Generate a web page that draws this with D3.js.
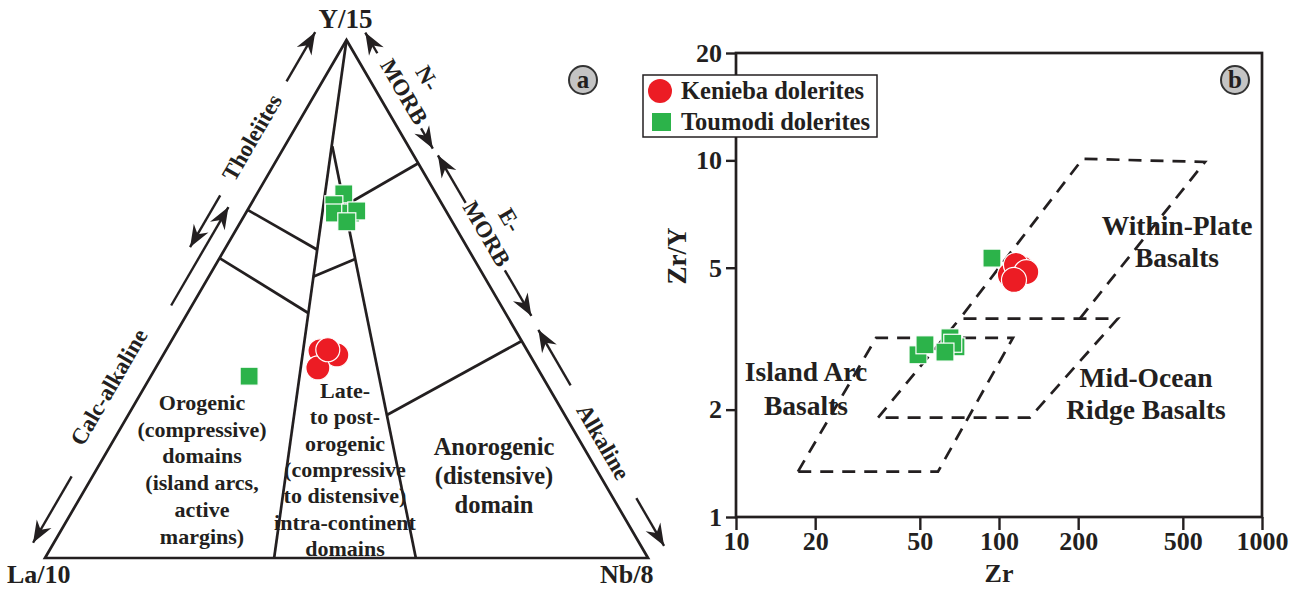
<!DOCTYPE html>
<html>
<head>
<meta charset="utf-8">
<script src="https://cdn.jsdelivr.net/npm/d3@7"></script>
<style>
body { margin: 0; background: #fff; }
text { font-family: "Liberation Serif", "Times New Roman", serif; font-weight: bold; fill: #231f20; }
</style>
</head>
<body>
<script>
// ---- (a) ternary Y/15 - La/10 - Nb/8 ----
var apexLabels = ['Y/15', 'La/10', 'Nb/8'];
// field boundaries, each point [Y/15, La/10, Nb/8] in %
var ternLines = [
  [[100, 0, 0], [0, 62, 38]],
  [[79.5, 12.6, 7.9], [0, 38.5, 61.5]],
  [[67.2, 32.8, 0], [59.5, 25.1, 15.4]],
  [[57.9, 42.1, 0], [47.3, 32.7, 20.0]],
  [[54.3, 28.4, 17.3], [57.7, 19.7, 22.6]],
  [[68.0, 16.3, 15.7], [76.2, 0, 23.8]],
  [[27.6, 29.5, 42.9], [41.9, 0, 58.1]]
];
var kenTern = [[40.0, 34.4, 25.6], [39.2, 32.0, 28.8], [36.7, 36.4, 26.9], [40.2, 33.0, 26.8]];
var touTern = [[70.3, 15.3, 14.4], [68.2, 18.0, 13.8], [66.6, 18.7, 14.7], [66.6, 16.0, 17.4],
               [67.0, 14.8, 18.2], [64.9, 17.5, 17.6], [35.1, 48.6, 16.3]];

// ---- (b) Zr vs Zr/Y ----
var zrTicks = [10, 20, 50, 100, 200, 500, 1000];
var zryTicks = [1, 2, 5, 10, 20];
var wpbField = [[203, 3.6], [607, 9.9], [208, 10.1], [71, 3.6]];
var morbField = [[34.7, 1.9], [71, 3.6], [283, 3.6], [131, 1.9]];
var iabField = [[17.2, 1.34], [34.1, 3.18], [113, 3.18], [58.6, 1.34]];
var kenZr = [[122, 4.99], [110, 4.77], [116, 5.09], [127, 4.86], [114, 4.62]];
var touZr = [[94, 5.32], [49.2, 2.85], [52.3, 3.04], [65.1, 3.18], [68.6, 3.0], [66.7, 3.07], [62.3, 2.9]];

var red = '#ec1c24', green = '#2cb34a', ink = '#231f20';

var svg = d3.select('body').append('svg').attr('width', 1299).attr('height', 589);

svg.append('defs').append('marker')
  .attr('id', 'ah').attr('viewBox', '-23 -9 25 18').attr('refX', 0).attr('refY', 0)
  .attr('markerWidth', 25).attr('markerHeight', 18).attr('markerUnits', 'userSpaceOnUse')
  .attr('orient', 'auto')
  .append('path').attr('d', 'M0,0 L-22,-8.5 L-15,0 L-22,8.5 Z').attr('fill', ink);

// ternary scales
var tx = d3.scaleLinear().domain([0, 1]).range([45, 648]);
var ty = d3.scaleLinear().domain([0, 1]).range([558, 40]);
function tern(p) {
  var s = p[0] + p[1] + p[2], a = p[0] / s, c = p[2] / s;
  return [tx(c + a / 2), ty(a)];
}
var ga = svg.append('g');
var corners = [[100, 0, 0], [0, 100, 0], [0, 0, 100]].map(tern);
ga.append('path').attr('d', d3.line()(corners) + 'Z')
  .attr('fill', 'none').attr('stroke', ink).attr('stroke-width', 2.7).attr('stroke-linejoin', 'miter');

ga.selectAll('.fl').data(ternLines).enter().append('path')
  .attr('d', function (d) { return d3.line()(d.map(tern)); })
  .attr('fill', 'none').attr('stroke', ink).attr('stroke-width', 2.7);

ga.append('text').attr('x', corners[0][0] - 1).attr('y', 28).attr('text-anchor', 'middle').style('font-size', '27px').text(apexLabels[0]);
ga.append('text').attr('x', 7).attr('y', 583).style('font-size', '26px').text(apexLabels[1]);
ga.append('text').attr('x', 600).attr('y', 583).style('font-size', '26px').text(apexLabels[2]);

// side arrows
function sidePt(side, t, off) {
  var A = corners[0], B = side === 'left' ? corners[1] : corners[2];
  var dx = A[0] - B[0], dy = A[1] - B[1], len = Math.hypot(dx, dy);
  var ux = dx / len, uy = dy / len;
  var nx = side === 'left' ? uy : -uy, ny = side === 'left' ? -ux : ux;
  return [B[0] + ux * t * len + nx * off, B[1] + uy * t * len + ny * off];
}
var sideNotes = [
  { side: 'left', off: 31, segs: [[0.67, 0.57], [0.89, 0.985]], t: 0.78, toff: 33, lines: ['Tholeiites'] },
  { side: 'left', off: 18, segs: [[0.47, 0.66], [0.14, 0.012]], t: 0.30, toff: 31, lines: ['Calc-alkaline'] },
  { side: 'right', off: 20, segs: [[0.955, 0.995], [0.81, 0.771]], t: 0.877, toff: 24, lines: ['N-', 'MORB'] },
  { side: 'right', off: 21, segs: [[0.665, 0.757], [0.535, 0.447]], t: 0.603, toff: 24, lines: ['E-', 'MORB'] },
  { side: 'right', off: 20, segs: [[0.314, 0.421], [0.096, 0.004]], t: 0.205, toff: 20, lines: ['Alkaline'] }
];
sideNotes.forEach(function (n) {
  n.segs.forEach(function (s) {
    var p0 = sidePt(n.side, s[0], n.off), p1 = sidePt(n.side, s[1], n.off);
    ga.append('line').attr('x1', p0[0]).attr('y1', p0[1]).attr('x2', p1[0]).attr('y2', p1[1])
      .attr('stroke', ink).attr('stroke-width', 2.4).attr('marker-end', 'url(#ah)');
  });
  var c = sidePt(n.side, n.t, n.toff);
  var ang = n.side === 'left' ? -59.8 : 59.8;
  var tt = ga.append('text').attr('transform', 'translate(' + c[0] + ',' + c[1] + ') rotate(' + ang + ')')
    .attr('text-anchor', 'middle').style('font-size', '23px');
  var nl = n.lines.length;
  n.lines.forEach(function (l, i) {
    tt.append('tspan').attr('x', 0).attr('y', 8 - (nl - 1 - i) * 27).text(l);
  });
});

// field names
function block(g, x, y0, dy, size, lines) {
  var t = g.append('text').attr('text-anchor', 'middle').style('font-size', size + 'px');
  lines.forEach(function (l, i) {
    t.append('tspan').attr('x', x).attr('y', y0 + i * dy).text(l);
  });
}
block(ga, 202, 410, 26.7, 22, ['Orogenic', '(compressive)', 'domains', '(island arcs,', 'active', 'margins)']);
block(ga, 345, 398, 26.3, 22, ['Late-', 'to post-', 'orogenic', '(compressive', 'to distensive)', 'intra-continent', 'domains']);
block(ga, 494, 455, 29, 24.5, ['Anorogenic', '(distensive)', 'domain']);

function drawPoints(g, pos, ken, tou, r, sq) {
  g.selectAll(null).data(tou).enter().append('rect')
    .attr('x', function (d) { return pos(d)[0] - sq / 2; })
    .attr('y', function (d) { return pos(d)[1] - sq / 2; })
    .attr('width', sq).attr('height', sq)
    .attr('fill', green).attr('stroke', '#fff').attr('stroke-width', 1.2);
  g.selectAll(null).data(ken).enter().append('circle')
    .attr('cx', function (d) { return pos(d)[0]; })
    .attr('cy', function (d) { return pos(d)[1]; })
    .attr('r', r)
    .attr('fill', red).attr('stroke', '#fff').attr('stroke-width', 1.2);
}
drawPoints(ga, tern, kenTern, touTern, 12, 18);

// ---- (b) ----
var x = d3.scaleLog().domain([10, 1000]).range([736, 1262]);
var y = d3.scaleLog().domain([1, 20]).range([517, 53]);
var gb = svg.append('g');

var line = d3.line().x(function (d) { return x(d[0]); }).y(function (d) { return y(d[1]); });
[[wpbField, false], [morbField, true], [iabField, true]].forEach(function (f) {
  gb.append('path').attr('d', line(f[0]) + (f[1] ? 'Z' : ''))
    .attr('fill', 'none').attr('stroke', ink).attr('stroke-width', 2.7)
    .attr('stroke-dasharray', '13,9');
});

var xa = gb.append('g').attr('transform', 'translate(0,517)')
  .call(d3.axisBottom(x).tickValues(zrTicks).tickFormat(d3.format('d')).tickSize(13).tickSizeOuter(0).tickPadding(2));
var ya = gb.append('g').attr('transform', 'translate(736,0)')
  .call(d3.axisLeft(y).tickValues(zryTicks).tickFormat(d3.format('d')).tickSize(10).tickSizeOuter(0).tickPadding(4));
[xa, ya].forEach(function (a) {
  a.select('.domain').remove();
  a.selectAll('line').attr('stroke', ink).attr('stroke-width', 2.4);
  a.selectAll('text').attr('fill', ink).style('font-size', '26px')
    .style('font-family', '"Liberation Serif", serif').style('font-weight', 'bold');
});
gb.append('rect').attr('x', x(10)).attr('y', y(20)).attr('width', x(1000) - x(10)).attr('height', y(1) - y(20))
  .attr('fill', 'none').attr('stroke', ink).attr('stroke-width', 2.7);

gb.append('text').attr('x', x(100)).attr('y', 582).attr('text-anchor', 'middle').style('font-size', '26px').text('Zr');
gb.append('text').attr('transform', 'translate(686,256) rotate(-90)').attr('text-anchor', 'middle').style('font-size', '27px').text('Zr/Y');

block(gb, 1177, 235, 32, 27.5, ['Within-Plate', 'Basalts']);
block(gb, 806, 381, 34, 27.5, ['Island Arc', 'Basalts']);
block(gb, 1146, 387, 32, 27.5, ['Mid-Ocean', 'Ridge Basalts']);

drawPoints(gb, function (d) { return [x(d[0]), y(d[1])]; }, kenZr, touZr, 12.5, 18);

// legend
var lg = gb.append('g');
lg.append('rect').attr('x', 643).attr('y', 75).attr('width', 234).attr('height', 62)
  .attr('fill', '#fff').attr('stroke', ink).attr('stroke-width', 1.5);
lg.append('circle').attr('cx', 660).attr('cy', 91).attr('r', 12).attr('fill', red);
lg.append('rect').attr('x', 652).attr('y', 113).attr('width', 19).attr('height', 18).attr('fill', green);
lg.append('text').attr('x', 681).attr('y', 99).style('font-size', '24.5px').text('Kenieba dolerites');
lg.append('text').attr('x', 681).attr('y', 130).style('font-size', '24.5px').text('Toumodi dolerites');

// panel badges
[[583, 'a'], [1235, 'b']].forEach(function (b) {
  svg.append('circle').attr('cx', b[0]).attr('cy', 80).attr('r', 14)
    .attr('fill', '#c4c4c4').attr('stroke', '#333').attr('stroke-width', 2);
  svg.append('text').attr('x', b[0]).attr('y', 88).attr('text-anchor', 'middle').style('font-size', '25px').text(b[1]);
});
</script>
</body>
</html>
